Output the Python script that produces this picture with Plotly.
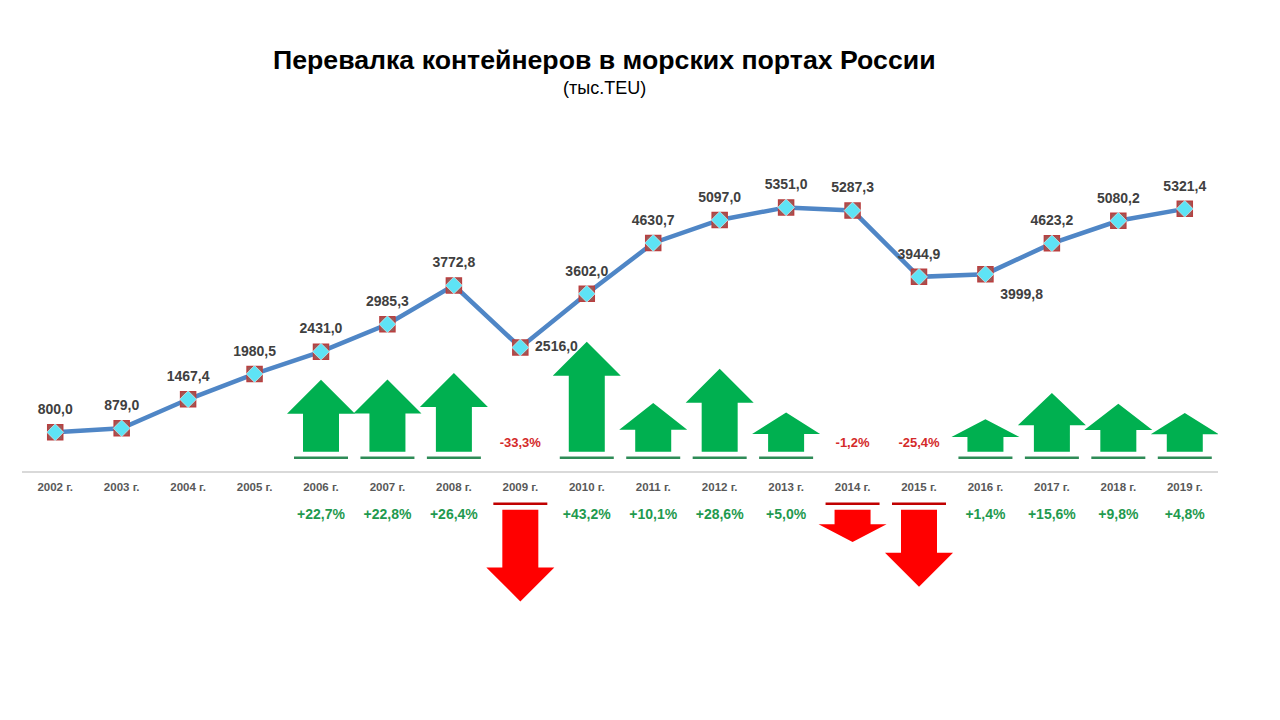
"""Перевалка контейнеров в морских портах России — line chart with change arrows."""

import plotly.graph_objects as go

# ── Data ────────────────────────────────────────────────────────────────
years = list(range(2002, 2020))
tick_labels = [f"{y} г." for y in years]
volume = [800.0, 879.0, 1467.4, 1980.5, 2431.0, 2985.3, 3772.8, 2516.0, 3602.0,
          4630.7, 5097.0, 5351.0, 5287.3, 3944.9, 3999.8, 4623.2, 5080.2, 5321.4]
# year-on-year change, % (None for the first years)
change = [None, None, None, None, 22.7, 22.8, 26.4, -33.3, 43.2,
          10.1, 28.6, 5.0, -1.2, -25.4, 1.4, 15.6, 9.8, 4.8]

# ── Styling ─────────────────────────────────────────────────────────────
_LINE = "#4f86c6"
_GREEN = "#00b050"
_RED = "#ff0000"
_FONT = "Liberation Sans, Arial, sans-serif"

_W, _H = 1280, 720
# page body adds an 8px offset, so margins are shifted by that amount
_M = dict(l=14, r=70, t=112, b=108)
Y_RANGE = [-3000, 7120]
X_RANGE = [-0.5, len(years) - 0.5]

plot_w = _W - _M["l"] - _M["r"]
plot_h = _H - _M["t"] - _M["b"]
ux = (X_RANGE[1] - X_RANGE[0]) / plot_w   # data units per pixel
uy = (Y_RANGE[1] - Y_RANGE[0]) / plot_h


def fmt(v: float) -> str:
    return f"{v:.1f}".replace(".", ",")


def arrow_size(pct: float) -> float:
    """Arrow length in pixels grows with the size of the change."""
    return 30 + 1.85 * abs(pct)


def paper_xy(px: float, py: float):
    """Figure pixel position -> paper coordinates."""
    return (px - _M["l"]) / plot_w, 1 - (py - _M["t"]) / plot_h


# ── Arrows built in data coordinates ────────────────────────────────────
up_x, up_y, dn_x, dn_y = [], [], [], []
up_bar_x, up_bar_y, dn_bar_x, dn_bar_y = [], [], [], []
head_w, shaft_w = 68 * ux, 36 * ux

for i, pct in enumerate(change):
    if pct is None:
        continue
    h = arrow_size(pct)
    hh = min(34, 0.55 * h)
    if pct > 0:
        base, sgn = 20 * uy, 1
    else:
        base, sgn = -38 * uy, -1
    neck = base + sgn * (h - hh) * uy
    tip = base + sgn * h * uy
    xs = [i - shaft_w / 2, i - shaft_w / 2, i - head_w / 2, i,
          i + head_w / 2, i + shaft_w / 2, i + shaft_w / 2, None]
    ys = [base, neck, neck, tip, neck, neck, base, None]
    bar_y = base - sgn * 6 * uy
    bar = [i - shaft_w * 0.75, i + shaft_w * 0.75, None]
    if pct > 0:
        up_x += xs
        up_y += ys
        up_bar_x += bar
        up_bar_y += [bar_y, bar_y, None]
    else:
        dn_x += xs
        dn_y += ys
        dn_bar_x += bar
        dn_bar_y += [bar_y, bar_y, None]

fig = go.Figure()

fig.add_trace(go.Scatter(x=up_x, y=up_y, fill="toself", fillcolor=_GREEN,
                         line=dict(width=0, color=_GREEN), mode="lines",
                         hoverinfo="skip"))
fig.add_trace(go.Scatter(x=dn_x, y=dn_y, fill="toself", fillcolor=_RED,
                         line=dict(width=0, color=_RED), mode="lines",
                         hoverinfo="skip"))
fig.add_trace(go.Scatter(x=up_bar_x, y=up_bar_y, mode="lines",
                         line=dict(color="#2e8b57", width=2.5), hoverinfo="skip"))
fig.add_trace(go.Scatter(x=dn_bar_x, y=dn_bar_y, mode="lines",
                         line=dict(color="#c00000", width=2.5), hoverinfo="skip"))

# ── Percent labels ──────────────────────────────────────────────────────
pos_i = [i for i, p in enumerate(change) if p is not None and p > 0]
neg_i = [i for i, p in enumerate(change) if p is not None and p < 0]
fig.add_trace(go.Scatter(
    x=pos_i, y=[-44 * uy] * len(pos_i), mode="text",
    text=["+" + fmt(change[i]) + "%" for i in pos_i],
    textfont=dict(family=_FONT, size=14, color="#1f9a4f", weight="bold"),
    hoverinfo="skip",
))
fig.add_trace(go.Scatter(
    x=neg_i, y=[28 * uy] * len(neg_i), mode="text",
    text=[fmt(change[i]) + "%" for i in neg_i],
    textfont=dict(family=_FONT, size=13, color="#d42a2a", weight="bold"),
    hoverinfo="skip",
))

# ── Volume line ─────────────────────────────────────────────────────────
xi = list(range(len(years)))
positions = ["top center"] * len(years)
positions[years.index(2009)] = "middle right"
positions[years.index(2016)] = "bottom right"

fig.add_trace(go.Scatter(x=xi, y=volume, mode="lines",
                         line=dict(color=_LINE, width=4.5), hoverinfo="skip"))
fig.add_trace(go.Scatter(x=xi, y=volume, mode="markers",
                         marker=dict(symbol="square", size=15, color="#9a5a58",
                                     line=dict(color="#b84040", width=1.5)),
                         hoverinfo="skip"))
fig.add_trace(go.Scatter(
    x=xi, y=volume, mode="markers",
    marker=dict(symbol="diamond", size=13, color="#5ee3f5",
                line=dict(color="#ffffff", width=0.5)),
    name="Перевалка",
))
# value labels: an invisible larger marker pushes the text a bit further out
fig.add_trace(go.Scatter(
    x=xi, y=volume, mode="markers+text",
    marker=dict(size=22, color="rgba(0,0,0,0)"),
    text=[fmt(v) for v in volume], textposition=positions,
    textfont=dict(family=_FONT, size=14, color="#404040", weight="bold"),
    hoverinfo="skip",
))

axis_pos = (0 - Y_RANGE[0]) / (Y_RANGE[1] - Y_RANGE[0])
tx, ty = paper_xy(596, 52)
sx, sy = paper_xy(596, 80)

fig.update_layout(
    width=_W, height=_H,
    margin=_M,
    paper_bgcolor="white",
    plot_bgcolor="white",
    showlegend=False,
    font=dict(family=_FONT),
    annotations=[
        dict(text="<b>Перевалка контейнеров в морских портах России</b>",
             x=tx, y=ty, xref="paper", yref="paper",
             xanchor="center", yanchor="middle", showarrow=False,
             font=dict(size=26.7, color="#000000", family=_FONT)),
        dict(text="(тыс.TEU)",
             x=sx, y=sy, xref="paper", yref="paper",
             xanchor="center", yanchor="middle", showarrow=False,
             font=dict(size=18, color="#000000", family=_FONT)),
    ],
    xaxis=dict(
        range=X_RANGE, tickmode="array", tickvals=xi, ticktext=tick_labels,
        showgrid=False, zeroline=False,
        showline=True, linecolor="#d9d9d9", linewidth=1.5,
        anchor="free", position=axis_pos,
        ticks="outside", ticklen=5, tickcolor="rgba(0,0,0,0)",
        tickfont=dict(family=_FONT, size=11.5, color="#595959", weight="bold"),
    ),
    yaxis=dict(range=Y_RANGE, visible=False, showgrid=False, zeroline=False),
)

fig.write_html("out.html")
